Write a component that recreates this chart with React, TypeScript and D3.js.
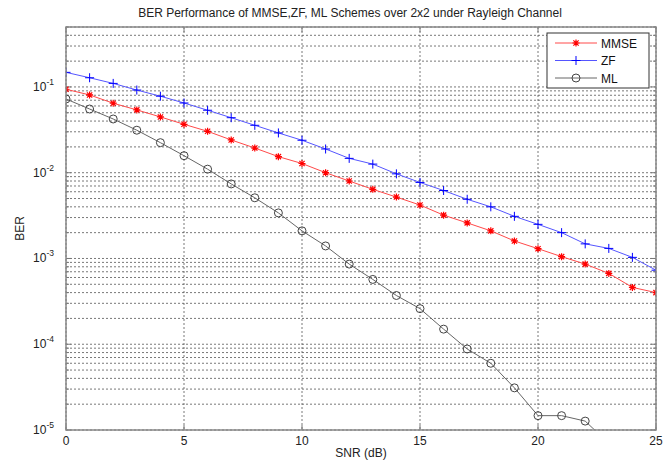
import React, { useEffect, useRef } from 'react'
import * as d3 from 'd3'

// SNR axis (dB)
const snr = [0, 1, 2, 3, 4, 5, 6, 7, 8, 9, 10, 11, 12, 13, 14, 15, 16, 17, 18, 19, 20, 21, 22, 23, 24, 25]
// BER values
const mmse = [0.094, 0.0807, 0.0646, 0.054, 0.0447, 0.0367, 0.0304, 0.0241, 0.0194, 0.0154, 0.0128, 0.0100, 0.0080, 0.0064, 0.0052, 0.0042, 0.0032, 0.0026, 0.0021, 0.0016, 0.0013, 0.00105, 0.00086, 0.00067, 0.00046, 0.0004]
const zf = [0.148, 0.128, 0.110, 0.092, 0.078, 0.065, 0.0535, 0.0438, 0.0357, 0.0291, 0.0239, 0.0189, 0.0147, 0.0126, 0.0097, 0.0077, 0.0062, 0.0049, 0.0040, 0.0031, 0.0025, 0.0020, 0.00148, 0.00131, 0.00103, 0.00073]
const ml = [0.0724, 0.0553, 0.0423, 0.0313, 0.0224, 0.0158, 0.0110, 0.0074, 0.0051, 0.0034, 0.0021, 0.0014, 0.00086, 0.00057, 0.00037, 0.00026, 0.00015, 0.000088, 0.00006, 0.000031, 0.0000147, 0.0000147, 0.0000127, 0.000007]
const xTicks = [0, 5, 10, 15, 20, 25]
const yDecades = [-1, -2, -3, -4, -5]
const legendNames = ['MMSE', 'ZF', 'ML']

const W = 669
const H = 466
const FONT = '"Liberation Sans", Arial, sans-serif'

export default function App() {
  const ref = useRef<SVGSVGElement>(null)

  useEffect(() => {
    const svg = d3.select(ref.current)
    svg.selectAll('*').remove()
    const margin = { top: 27, right: 13, bottom: 36, left: 66 }
    const w = W - margin.left - margin.right
    const h = H - margin.top - margin.bottom

    const x = d3.scaleLinear().domain([0, 25]).range([0, w])
    const y = d3.scaleLog().domain([1e-5, 0.5]).range([h, 0])

    svg.append('defs').append('clipPath').attr('id', 'plotclip')
      .append('rect').attr('width', w).attr('height', h)

    const g = svg.append('g').attr('transform', `translate(${margin.left},${margin.top})`)
    g.append('rect').attr('width', w).attr('height', h).attr('fill', '#fff')

    // minor + major y grid values
    const yGrid: number[] = []
    for (let e = -5; e <= -1; e++) {
      for (let m = 1; m <= 9; m++) {
        const v = m * Math.pow(10, e)
        if (v <= 0.5 + 1e-9) yGrid.push(v)
      }
    }
    const grid = g.append('g')
    grid.selectAll('line.hg').data(yGrid).enter().append('line')
      .attr('x1', 0).attr('x2', w)
      .attr('y1', (d) => y(d)).attr('y2', (d) => y(d))
      .attr('stroke', '#555').attr('stroke-width', 0.8).attr('stroke-dasharray', '2,2')
    grid.selectAll('line.vg').data(xTicks).enter().append('line')
      .attr('y1', 0).attr('y2', h)
      .attr('x1', (d) => x(d)).attr('x2', (d) => x(d))
      .attr('stroke', '#555').attr('stroke-width', 0.8).attr('stroke-dasharray', '2,2')

    // ticks inside the box
    const ticks = g.append('g').attr('stroke', '#777').attr('stroke-width', 1)
    xTicks.forEach((t) => {
      ticks.append('line').attr('x1', x(t)).attr('x2', x(t)).attr('y1', h).attr('y2', h - 5)
      ticks.append('line').attr('x1', x(t)).attr('x2', x(t)).attr('y1', 0).attr('y2', 5)
    })
    yGrid.forEach((v) => {
      const major = Math.abs(Math.log10(v) - Math.round(Math.log10(v))) < 1e-6
      const len = major ? 5 : 3
      ticks.append('line').attr('x1', 0).attr('x2', len).attr('y1', y(v)).attr('y2', y(v))
      ticks.append('line').attr('x1', w).attr('x2', w - len).attr('y1', y(v)).attr('y2', y(v))
    })

    // series
    const plot = g.append('g').attr('clip-path', 'url(#plotclip)')
    const line = d3.line<number>()
      .x((d, i) => x(snr[i]))
      .y((d) => y(d))

    const series = [
      { name: 'MMSE', data: mmse, line: '#ff4a4a', mark: '#ff0000', marker: 'star' },
      { name: 'ZF', data: zf, line: '#5555ff', mark: '#0000ff', marker: 'plus' },
      { name: 'ML', data: ml, line: '#666', mark: '#444', marker: 'circle' },
    ]

    const drawMarker = (sel: any, type: string, color: string, cx: number, cy: number) => {
      if (type === 'circle') {
        sel.append('circle').attr('cx', cx).attr('cy', cy).attr('r', 4)
          .attr('fill', 'none').attr('stroke', color).attr('stroke-width', 1)
      } else if (type === 'plus') {
        const s = 4.5
        sel.append('path')
          .attr('d', `M${cx - s},${cy}H${cx + s}M${cx},${cy - s}V${cy + s}`)
          .attr('stroke', color).attr('stroke-width', 1).attr('fill', 'none')
      } else {
        const s = 3.5
        const k = s * 0.75
        sel.append('path')
          .attr('d', `M${cx - s},${cy}H${cx + s}M${cx},${cy - s}V${cy + s}M${cx - k},${cy - k}L${cx + k},${cy + k}M${cx - k},${cy + k}L${cx + k},${cy - k}`)
          .attr('stroke', color).attr('stroke-width', 1.2).attr('fill', 'none')
      }
    }

    series.forEach((s) => {
      plot.append('path').datum(s.data)
        .attr('fill', 'none').attr('stroke', s.line).attr('stroke-width', 1)
        .attr('d', line)
      const mg = plot.append('g')
      s.data.forEach((v, i) => {
        if (y(v) <= h + 5) drawMarker(mg, s.marker, s.mark, x(snr[i]), y(v))
      })
    })

    // box
    g.append('rect').attr('width', w).attr('height', h)
      .attr('fill', 'none').attr('stroke', '#888').attr('stroke-width', 1.5)

    // tick labels
    xTicks.forEach((t) => {
      g.append('text').attr('x', x(t)).attr('y', h + 15)
        .attr('text-anchor', 'middle').attr('font-family', FONT).attr('font-size', 12)
        .attr('fill', '#222').text(t)
    })
    yDecades.forEach((e) => {
      const t = g.append('text').attr('x', -12).attr('y', y(Math.pow(10, e)) + 4)
        .attr('text-anchor', 'end').attr('font-family', FONT).attr('font-size', 12).attr('fill', '#222')
      t.append('tspan').text('10')
      t.append('tspan').attr('dy', -6).attr('font-size', 8.5).text(String(e).replace('-', '-'))
    })

    // axis titles
    svg.append('text').attr('x', margin.left + w / 2).attr('y', 457)
      .attr('text-anchor', 'middle').attr('font-family', FONT).attr('font-size', 12).attr('fill', '#222')
      .text('SNR (dB)')
    svg.append('text').attr('transform', `translate(24,${margin.top + h / 2}) rotate(-90)`)
      .attr('text-anchor', 'middle').attr('font-family', FONT).attr('font-size', 12).attr('fill', '#222')
      .text('BER')
    svg.append('text').attr('x', 350).attr('y', 17)
      .attr('text-anchor', 'middle').attr('font-family', FONT).attr('font-size', 12).attr('fill', '#222')
      .text('BER Performance of MMSE,ZF, ML Schemes over 2x2 under Rayleigh Channel')

    // legend
    const lg = svg.append('g').attr('transform', 'translate(547,33)')
    lg.append('rect').attr('width', 102).attr('height', 55)
      .attr('fill', '#fff').attr('stroke', '#333').attr('stroke-width', 1)
    series.forEach((s, i) => {
      const ly = 10 + i * 17.5
      lg.append('line').attr('x1', 8).attr('x2', 50).attr('y1', ly).attr('y2', ly)
        .attr('stroke', s.line).attr('stroke-width', 1)
      drawMarker(lg, s.marker, s.mark, 29, ly)
      lg.append('text').attr('x', 54).attr('y', ly + 4.5)
        .attr('font-family', FONT).attr('font-size', 12).attr('fill', '#111')
        .text(legendNames[i])
    })
  }, [])

  return (
    <svg ref={ref} width={W} height={H}
      style={{ position: 'absolute', left: 0, top: 0, background: '#fff' }} />
  )
}
